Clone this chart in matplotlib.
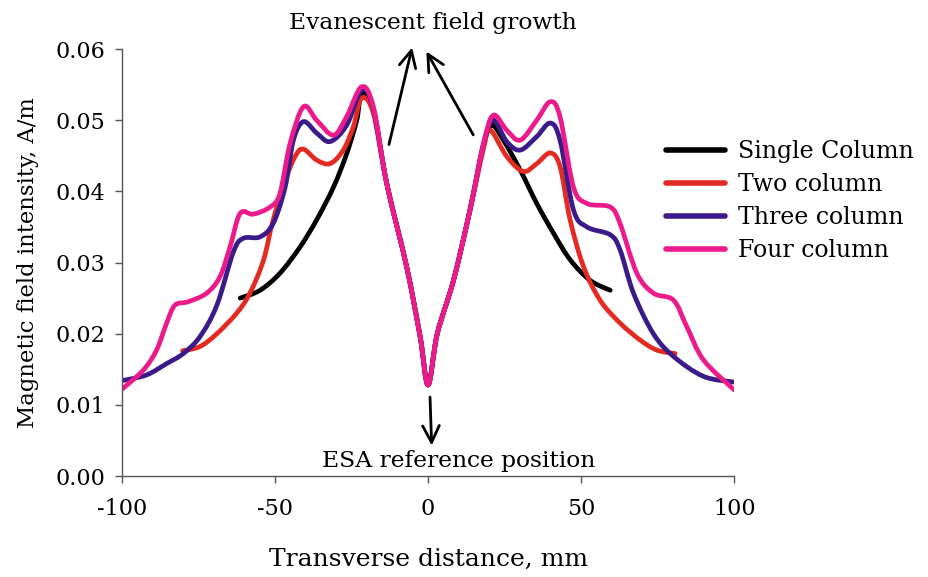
import numpy as np
import matplotlib
matplotlib.use("Agg")
import matplotlib.pyplot as plt
from matplotlib.path import Path
from matplotlib.patches import PathPatch
from matplotlib.lines import Line2D

plt.rcParams['font.family'] = ['DejaVu Serif']

# transverse position (mm) and field intensity (A/m) for each array size
single_x = [-61.4, -54.9, -48.4, -41.8, -36.4, -30.9, -26.6, -23.3, -21.7,
            -17.9, -13.5, -7, -2.6, 0, 3, 8.3, 13.7, 18.1,
            20.8, 24.6, 30.1, 35.5, 41, 46.4, 52.9, 59.5]
single_y = [0.0250, 0.0261, 0.0285, 0.0322, 0.0360, 0.0406, 0.0453, 0.0500, 0.0538,
            0.0515, 0.0411, 0.0294, 0.0196, 0.0128, 0.0200, 0.0275, 0.0374, 0.0465,
            0.0493, 0.0472, 0.0430, 0.0383, 0.0341, 0.0304, 0.0275, 0.0261]

two_x = [-80.2, -74.5, -69, -62.5, -58.2, -53.8, -50.6, -46.2, -42.9, -40.5,
         -36.4, -32, -27.7, -24.4, -21.7,
         -17.9, -13.5, -7, -2.6, 0, 3, 8.3, 13.7, 18.1,
         20.3, 25.7, 31.1, 35.5, 39.9, 43.1, 46.4, 50.8, 56.2, 62.7, 69.3, 74.7, 80.7]
two_y = [0.0176, 0.0182, 0.0200, 0.0229, 0.0257, 0.0303, 0.0360, 0.0421, 0.0453, 0.0459,
         0.0444, 0.0439, 0.0458, 0.0491, 0.0531,
         0.0510, 0.0411, 0.0294, 0.0196, 0.0128, 0.0200, 0.0275, 0.0374, 0.0460,
         0.0486, 0.0449, 0.0428, 0.0439, 0.0454, 0.0435, 0.0360, 0.0294, 0.0247,
         0.0215, 0.0191, 0.0177, 0.0172]

three_x = [-100, -92, -85.4, -80, -74.5, -69, -63.6, -60.4, -54.9, -50.6,
           -46.7, -44, -40.7, -36.4, -32, -26.6, -21.7,
           -17.9, -13.5, -7, -2.6, 0, 3, 8.3, 13.7, 18.1,
           21.3, 25.7, 30.1, 35.5, 39.9, 43.1, 47.5, 51.9, 59.5, 62.7, 67.1,
           73.6, 80.2, 90, 100]
three_y = [0.0134, 0.0142, 0.0158, 0.0172, 0.0196, 0.0240, 0.0315, 0.0334, 0.0336, 0.0355,
           0.0406, 0.0472, 0.0498, 0.0482, 0.0470, 0.0493, 0.0542,
           0.0517, 0.0411, 0.0294, 0.0196, 0.0128, 0.0200, 0.0275, 0.0374, 0.0467,
           0.0500, 0.0470, 0.0458, 0.0477, 0.0496, 0.0472, 0.0374, 0.0350, 0.0339,
           0.0318, 0.0257, 0.0200, 0.0168, 0.0140, 0.0132]

four_x = [-100, -93, -88.7, -85.4, -82.7, -78.3, -72.3, -68, -64.7, -61.4, -57.1,
          -51.6, -48.4, -45.1, -40.7, -36.4, -30.9, -26.6, -21.7,
          -17.9, -13.5, -7, -2.6, 0, 3, 8.3, 13.7, 18.1,
          21.3, 25.7, 30.1, 35.5, 39.9, 43.1, 47.5, 51.9, 59.5, 62.7, 68.2,
          73.6, 80.2, 84.5, 90, 100]
four_y = [0.0122, 0.0149, 0.0177, 0.0215, 0.0240, 0.0245, 0.0257, 0.0280, 0.0322, 0.0369,
          0.0368, 0.0378, 0.0397, 0.0467, 0.0519, 0.0500, 0.0479, 0.0505, 0.0547,
          0.0519, 0.0411, 0.0294, 0.0196, 0.0128, 0.0200, 0.0275, 0.0374, 0.0467,
          0.0507, 0.0486, 0.0472, 0.0500, 0.0526, 0.0505, 0.0406, 0.0383, 0.0378,
          0.0355, 0.0285, 0.0257, 0.0247, 0.0210, 0.0163, 0.0121]

labels = ["Single Column", "Two column", "Three column", "Four column"]
colors = ["#000000", "#e42b23", "#3b1a8a", "#ec1b8c"]
xticks = [-100, -50, 0, 50, 100]
yticks = [0.00, 0.01, 0.02, 0.03, 0.04, 0.05, 0.06]


def smooth_path(xs, ys):
    # Catmull-Rom through the points, written as cubic Bezier segments
    p = np.column_stack([xs, ys]).astype(float)
    p_ext = np.vstack([p[0], p, p[-1]])
    verts = [p[0]]
    codes = [Path.MOVETO]
    for i in range(len(p) - 1):
        p0, p1, p2, p3 = p_ext[i], p_ext[i + 1], p_ext[i + 2], p_ext[i + 3]
        verts += [p1 + (p2 - p0) / 6, p2 - (p3 - p1) / 6, p2]
        codes += [Path.CURVE4] * 3
    return Path(verts, codes)


fig = plt.figure(figsize=(9.29, 5.77), dpi=100)
ax = fig.add_axes([0.1313, 0.175, 0.659, 0.740])

series = [(single_x, single_y), (two_x, two_y), (three_x, three_y), (four_x, four_y)]
handles = []
for (xs, ys), c, lab in zip(series, colors, labels):
    ax.add_patch(PathPatch(smooth_path(xs, ys), fill=False, edgecolor=c,
                           lw=3.4, capstyle='round', joinstyle='round'))
    handles.append(Line2D([], [], color=c, lw=4.0, solid_capstyle='round', label=lab))

ax.set_xlim(-100, 100)
ax.set_ylim(0, 0.06)
ax.set_xticks(xticks)
ax.set_xticklabels([str(t) for t in xticks])
ax.set_yticks(yticks)
ax.set_yticklabels([f"{t:.2f}" for t in yticks])
for s in ["top", "right"]:
    ax.spines[s].set_visible(False)
for s in ["left", "bottom"]:
    ax.spines[s].set_color("#555555")
    ax.spines[s].set_linewidth(1.0)
ax.tick_params(axis='both', direction='out', length=5, width=1.0,
               color="#555555", labelsize=16, pad=7)
ax.tick_params(axis='x', pad=11)

ax.set_xlabel("Transverse distance, mm", fontsize=18, labelpad=20)
ax.set_ylabel("Magnetic field intensity, A/m", fontsize=16.4, labelpad=12)

# annotation arrows
arrow = dict(arrowstyle='->', color='black', lw=2.0, mutation_scale=30)
ax.annotate("", xy=(-5.0, 0.0606), xytext=(-13.0, 0.0462), arrowprops=arrow,
            annotation_clip=False)
ax.annotate("", xy=(-1.0, 0.0600), xytext=(15.2, 0.0476), arrowprops=arrow,
            annotation_clip=False)
ax.annotate("", xy=(1.2, 0.0039), xytext=(0.6, 0.0115), arrowprops=arrow,
            annotation_clip=False)
ax.text(1.5, 0.0637, "Evanescent field growth", ha='center', va='center',
        fontsize=16.8, clip_on=False)
ax.text(10.1, 0.0021, "ESA reference position", ha='center', va='center',
        fontsize=16.8)

fig.legend(handles=handles, loc='upper left', bbox_to_anchor=(0.717, 0.757),
           bbox_transform=fig.transFigure, frameon=False, fontsize=17,
           handlelength=2.5, handletextpad=0.55, labelspacing=0.42,
           borderpad=0, borderaxespad=0)

fig.savefig("out.png", dpi=100, facecolor="white")
